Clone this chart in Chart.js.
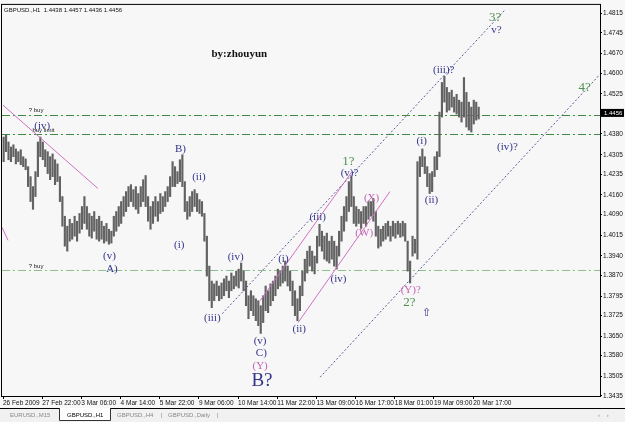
<!DOCTYPE html>
<html>
<head>
<meta charset="utf-8">
<script src="https://cdn.jsdelivr.net/npm/chart.js@4.4.1/dist/chart.umd.min.js"></script>
<style>
  body { margin: 0; background: #f7f7f7; }
  #wrap { width: 625px; height: 422px; }
</style>
</head>
<body>
<div id="wrap"><canvas id="gbpChart" width="625" height="422"></canvas></div>
<script>
// GBPUSD H1, one entry for every two hourly bars, starting 26 Feb 2009 00:00
var barHigh = [
  1.4369, 1.4376, 1.4351, 1.4333, 1.4341, 1.4326, 1.4316, 1.4323, 1.4298, 1.4290,
  1.4262, 1.4226, 1.4190, 1.4244, 1.4351, 1.4369, 1.4351, 1.4323, 1.4316, 1.4298,
  1.4308, 1.4287, 1.4272, 1.4226, 1.4154, 1.4083, 1.4047, 1.4072, 1.4057, 1.4083,
  1.4065, 1.4093, 1.4118, 1.4154, 1.4118, 1.4093, 1.4083, 1.4100, 1.4072, 1.4083,
  1.4065, 1.4047, 1.4057, 1.4036, 1.4029, 1.4083, 1.4100, 1.4118, 1.4136, 1.4154,
  1.4172, 1.4190, 1.4197, 1.4179, 1.4190, 1.4165, 1.4190, 1.4215, 1.4230, 1.4154,
  1.4118, 1.4136, 1.4154, 1.4136, 1.4165, 1.4154, 1.4172, 1.4190, 1.4226, 1.4280,
  1.4262, 1.4244, 1.4287, 1.4305, 1.4208, 1.4136, 1.4154, 1.4172, 1.4179, 1.4165,
  1.4143, 1.4136, 1.4093, 1.4011, 1.3903, 1.3849, 1.3839, 1.3849, 1.3831, 1.3842,
  1.3857, 1.3867, 1.3849, 1.3878, 1.3867, 1.3885, 1.3892, 1.3914, 1.3885, 1.3849,
  1.3796, 1.3814, 1.3796, 1.3785, 1.3778, 1.3760, 1.3796, 1.3831, 1.3814, 1.3839,
  1.3849, 1.3867, 1.3892, 1.3885, 1.3903, 1.3921, 1.3903, 1.3885, 1.3849, 1.3814,
  1.3785, 1.3831, 1.3885, 1.3928, 1.3957, 1.3975, 1.3957, 1.3939, 1.4011, 1.4054,
  1.4029, 1.4011, 1.4022, 1.3993, 1.4011, 1.3993, 1.3975, 1.4029, 1.4083, 1.4118,
  1.4154, 1.4208, 1.4226, 1.4154, 1.4118, 1.4108, 1.4100, 1.4118, 1.4118, 1.4136,
  1.4136, 1.4147, 1.4100, 1.4047, 1.4036, 1.4047, 1.4057, 1.4065, 1.4047, 1.4065,
  1.4057, 1.4065, 1.4057, 1.4065, 1.4057, 1.3993, 1.3921, 1.4011, 1.4000, 1.4280,
  1.4298, 1.4326, 1.4298, 1.4262, 1.4237, 1.4244, 1.4298, 1.4316, 1.4459, 1.4566,
  1.4588, 1.4548, 1.4530, 1.4538, 1.4513, 1.4523, 1.4502, 1.4495, 1.4584, 1.4530,
  1.4495, 1.4477, 1.4502, 1.4495, 1.4477
];
var barLow = [
  1.4280, 1.4316, 1.4287, 1.4280, 1.4298, 1.4272, 1.4280, 1.4269, 1.4262, 1.4251,
  1.4190, 1.4136, 1.4108, 1.4154, 1.4226, 1.4298, 1.4287, 1.4262, 1.4237, 1.4215,
  1.4226, 1.4197, 1.4208, 1.4136, 1.4047, 1.3975, 1.3957, 1.3993, 1.4000, 1.4011,
  1.3993, 1.4022, 1.4036, 1.4057, 1.4036, 1.4011, 1.4004, 1.4029, 1.4000, 1.3993,
  1.4000, 1.3986, 1.3993, 1.3982, 1.3986, 1.4011, 1.4029, 1.4047, 1.4057, 1.4083,
  1.4100, 1.4118, 1.4136, 1.4118, 1.4108, 1.4093, 1.4118, 1.4136, 1.4118, 1.4065,
  1.4036, 1.4057, 1.4083, 1.4065, 1.4093, 1.4100, 1.4118, 1.4136, 1.4154, 1.4190,
  1.4190, 1.4201, 1.4208, 1.4190, 1.4100, 1.4072, 1.4083, 1.4100, 1.4118, 1.4100,
  1.4093, 1.4083, 1.3993, 1.3867, 1.3778, 1.3753, 1.3778, 1.3796, 1.3778, 1.3785,
  1.3796, 1.3814, 1.3789, 1.3814, 1.3821, 1.3831, 1.3824, 1.3849, 1.3814, 1.3760,
  1.3713, 1.3742, 1.3724, 1.3706, 1.3688, 1.3660, 1.3699, 1.3742, 1.3735, 1.3760,
  1.3778, 1.3796, 1.3821, 1.3831, 1.3842, 1.3849, 1.3831, 1.3814, 1.3760, 1.3724,
  1.3706, 1.3742, 1.3796, 1.3849, 1.3878, 1.3903, 1.3885, 1.3875, 1.3914, 1.3975,
  1.3957, 1.3928, 1.3921, 1.3914, 1.3928, 1.3903, 1.3892, 1.3939, 1.3993, 1.4029,
  1.4065, 1.4100, 1.4118, 1.4057, 1.4047, 1.4057, 1.4039, 1.4057, 1.4047, 1.4072,
  1.4083, 1.4065, 1.4011, 1.3968, 1.3975, 1.3993, 1.4000, 1.4011, 1.3993, 1.4011,
  1.4004, 1.4018, 1.4007, 1.4011, 1.3993, 1.3885, 1.3842, 1.3939, 1.3950, 1.3928,
  1.4226, 1.4262, 1.4237, 1.4190, 1.4165, 1.4172, 1.4226, 1.4251, 1.4298, 1.4441,
  1.4495, 1.4459, 1.4466, 1.4477, 1.4459, 1.4452, 1.4441, 1.4423, 1.4441, 1.4405,
  1.4394, 1.4387, 1.4416, 1.4430, 1.4434
];

// time axis: hourly bar index -> label
var timeTickIdx = [0, 32, 64, 96, 128, 160, 192, 224, 256, 288, 320, 352, 384];
var timeLabels = ['26 Feb 2009', '27 Feb 22:00', '3 Mar 06:00', '4 Mar 14:00', '5 Mar 22:00',
  '9 Mar 06:00', '10 Mar 14:00', '11 Mar 22:00', '13 Mar 09:00', '16 Mar 17:00',
  '18 Mar 01:00', '19 Mar 09:00', '20 Mar 17:00'];

var priceTicks = [1.4815, 1.4745, 1.4670, 1.4600, 1.4525, 1.4380, 1.4305, 1.4235, 1.4160,
  1.4090, 1.4015, 1.3940, 1.3870, 1.3795, 1.3725, 1.3650, 1.3580, 1.3505, 1.3435];
var lastPrice = 1.4456;
var headerText = 'GBPUSD.,H1  1.4438 1.4457 1.4436 1.4456';

// pending orders
var orderPrice = [1.4450, 1.4380, 1.3888];
var orderName = ['? buy', 'buy limit', '? buy'];

// wave counts: [text, bar index, price, colour group]
var waveLabels = [
  ['(iv)', 32, 1.4409, 'n'], ['B)', 145, 1.4326, 'n'], ['(ii)', 160, 1.4226, 'n'],
  ['(i)', 144, 1.3979, 'n'], ['(v)', 87, 1.3939, 'n'], ['A)', 89, 1.3892, 'n'],
  ['(iv)', 190, 1.3935, 'n'], ['(iii)', 171, 1.3717, 'n'], ['(i)', 229, 1.3928, 'n'],
  ['(v)', 210, 1.3631, 'n'], ['C)', 211, 1.3588, 'n'], ['(Y)', 210, 1.3541, 'p'],
  ['(ii)', 242, 1.3677, 'n'], ['(iii)', 257, 1.4079, 'n'], ['(iv)', 274, 1.3857, 'n'],
  ['1?', 282, 1.4280, 'g'], ['(v)?', 283, 1.4240, 'n'], ['(X)', 301, 1.4147, 'p'],
  ['(W)', 295, 1.4022, 'p'], ['(i)', 342, 1.4355, 'n'], ['(ii)', 350, 1.4140, 'n'],
  ['(iv)?', 412, 1.4333, 'n'], ['(Y)?', 333, 1.3817, 'p'], ['2?', 332, 1.3771, 'g'],
  ['\u21E7', 346, 1.3735, 'n'], ['(iii)?', 360, 1.4609, 'n'], ['v?', 403, 1.4756, 'n'],
  ['3?', 402, 1.4799, 'g'], ['4?', 475, 1.4548, 'g']
];
var bigLabel = ['B?', 211.5, 1.3488];
var authorLabel = ['by:zhouyun', 193, 1.4667];

// trend lines: [idx1, price1, idx2, price2]
var channelLines = [[179, 1.3731, 410, 1.4828], [259, 1.3502, 487.5, 1.4595]];
var pinkLines = [[210, 1.3778, 285, 1.4244], [241, 1.3699, 316, 1.4172],
  [0, 1.4484, 77.6, 1.4183], [-0.8, 1.4043, 4.1, 1.3996]];

var waveColors = { n: '#35358c', p: '#c262b4', g: '#4f914f' };

var candleData = barHigh.map(function(h, j) {
  return { x: 2 * j + 0.5, y: [barLow[j], h] };
});

var overlayPlugin = {
  id: 'overlay',
  beforeDraw: function(chart) {
    var c = chart.ctx;
    c.save();
    c.fillStyle = '#f7f7f7';
    c.fillRect(0, 0, chart.width, chart.height);
    c.restore();
  },
  beforeDatasetsDraw: function(chart) {
    var c = chart.ctx, xs = chart.scales.x, ys = chart.scales.y, a = chart.chartArea;
    c.save();
    c.beginPath();
    c.rect(a.left, a.top, a.right - a.left, a.bottom - a.top);
    c.clip();
    // order levels
    c.lineWidth = 1;
    c.setLineDash([8, 3, 2, 3]);
    orderPrice.forEach(function(p, i) {
      var y = Math.round(ys.getPixelForValue(p)) + 0.5;
      c.strokeStyle = i < 2 ? '#3f8a3f' : '#8cbf8c';
      c.beginPath();
      c.moveTo(a.left, y);
      c.lineTo(a.right, y);
      c.stroke();
    });
    c.setLineDash([]);
    c.font = '6px "Liberation Sans"';
    c.fillStyle = '#222';
    c.textBaseline = 'bottom';
    orderPrice.forEach(function(p, i) {
      var y = ys.getPixelForValue(p);
      c.fillText(orderName[i], xs.getPixelForValue(i === 1 ? 24 : 21), y - 1);
    });
    c.restore();
  },
  afterDatasetsDraw: function(chart) {
    var c = chart.ctx, xs = chart.scales.x, ys = chart.scales.y, a = chart.chartArea;
    c.save();
    c.beginPath();
    c.rect(a.left, a.top, a.right - a.left, a.bottom - a.top);
    c.clip();
    c.lineWidth = 1;
    c.strokeStyle = '#5a5a94';
    c.setLineDash([2, 2]);
    channelLines.forEach(function(l) {
      c.beginPath();
      c.moveTo(xs.getPixelForValue(l[0]), ys.getPixelForValue(l[1]));
      c.lineTo(xs.getPixelForValue(l[2]), ys.getPixelForValue(l[3]));
      c.stroke();
    });
    c.setLineDash([]);
    c.strokeStyle = '#d070c4';
    pinkLines.forEach(function(l) {
      c.beginPath();
      c.moveTo(xs.getPixelForValue(l[0]), ys.getPixelForValue(l[1]));
      c.lineTo(xs.getPixelForValue(l[2]), ys.getPixelForValue(l[3]));
      c.stroke();
    });

    c.textAlign = 'center';
    c.textBaseline = 'middle';
    waveLabels.forEach(function(w) {
      c.fillStyle = waveColors[w[3]];
      c.font = (w[3] === 'g' ? '13px' : '11px') + ' "Liberation Serif"';
      c.fillText(w[0], xs.getPixelForValue(w[1]), ys.getPixelForValue(w[2]));
    });
    c.fillStyle = waveColors.n;
    c.font = '19px "Liberation Serif"';
    c.fillText(bigLabel[0], xs.getPixelForValue(bigLabel[1]), ys.getPixelForValue(bigLabel[2]));
    c.fillStyle = '#111';
    c.font = 'bold 11px "Liberation Serif"';
    c.fillText(authorLabel[0], xs.getPixelForValue(authorLabel[1]), ys.getPixelForValue(authorLabel[2]));
    c.restore();
  },
  afterDraw: function(chart) {
    var c = chart.ctx, ys = chart.scales.y, a = chart.chartArea;
    c.save();
    // frame
    c.strokeStyle = '#000';
    c.lineWidth = 1;
    c.strokeRect(a.left - 0.5, a.top - 0.5, a.right - a.left + 1, a.bottom - a.top + 1);
    // header
    c.fillStyle = '#111';
    c.font = '6px "Liberation Sans"';
    c.textBaseline = 'middle';
    c.fillText(headerText, a.left + 2, a.top + 5);
    // current price box
    var py = ys.getPixelForValue(lastPrice);
    c.fillStyle = '#000';
    c.fillRect(a.right + 1, py - 4, 23, 8);
    c.fillStyle = '#fff';
    c.fillText(lastPrice.toFixed(4), a.right + 4, py);
    // tab bar
    var top = chart.height - 14;
    c.fillStyle = '#f1f1f1';
    c.fillRect(0, top, chart.width, 14);
    c.fillStyle = '#000';
    c.fillRect(0, top, chart.width, 1);
    c.fillStyle = '#fff';
    c.fillRect(59, top, 51, 12);
    c.strokeStyle = '#333';
    c.beginPath();
    c.moveTo(59.5, top);
    c.lineTo(59.5, top + 12.5);
    c.lineTo(110.5, top + 12.5);
    c.lineTo(110.5, top);
    c.stroke();
    c.font = '6px "Liberation Sans"';
    c.fillStyle = '#888';
    c.fillText('EURUSD.,M15', 10, top + 7);
    c.fillText('GBPUSD.,H4', 117, top + 7);
    c.fillText('|', 161, top + 7);
    c.fillText('GBPUSD.,Daily', 168, top + 7);
    c.fillText('|', 217, top + 7);
    c.fillText('\u2039    \u203A', 598, top + 7);
    c.fillStyle = '#000';
    c.fillText('GBPUSD.,H1', 67, top + 7);
    c.restore();
  }
};

new Chart(document.getElementById('gbpChart'), {
  type: 'bar',
  data: {
    datasets: [{
      data: candleData,
      backgroundColor: '#626262',
      barThickness: 1.5,
      borderWidth: 0
    }]
  },
  options: {
    responsive: false,
    animation: false,
    layout: { padding: { top: 2, left: 2, right: 0, bottom: 14 } },
    plugins: { legend: { display: false }, tooltip: { enabled: false } },
    scales: {
      x: {
        type: 'linear',
        offset: false,
        min: -0.82,
        max: 487.6,
        grid: { display: true, offset: false, drawOnChartArea: false, drawTicks: true, tickLength: 3, color: '#000' },
        border: { display: true, color: '#000' },
        afterBuildTicks: function(scale) {
          scale.ticks = timeTickIdx.map(function(v) { return { value: v }; });
        },
        afterFit: function(scale) { scale.height = 12; },
        ticks: {
          autoSkip: false,
          maxRotation: 0,
          minRotation: 0,
          align: 'start',
          padding: 0,
          color: '#111',
          font: { family: 'Liberation Sans', size: 6.5 },
          callback: function(v) {
            var k = timeTickIdx.indexOf(v);
            return k >= 0 ? timeLabels[k] : '';
          }
        }
      },
      y: {
        type: 'linear',
        position: 'right',
        min: 1.3434,
        max: 1.4846,
        grid: { display: true, drawOnChartArea: false, drawTicks: true, tickLength: 2, color: '#000' },
        border: { display: true, color: '#000' },
        afterBuildTicks: function(scale) {
          scale.ticks = priceTicks.map(function(v) { return { value: v }; });
        },
        afterFit: function(scale) { scale.width = 25; },
        ticks: {
          padding: 1,
          color: '#111',
          font: { family: 'Liberation Sans', size: 6.5 },
          callback: function(v) { return v.toFixed(4); }
        }
      }
    }
  },
  plugins: [overlayPlugin]
});
</script>
</body>
</html>
